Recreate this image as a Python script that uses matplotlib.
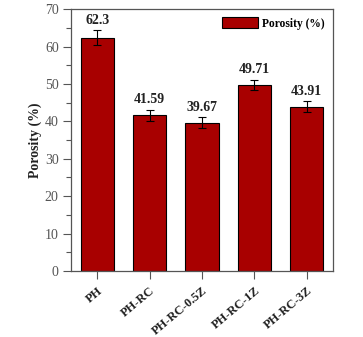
import numpy as np
import matplotlib.pyplot as plt
import matplotlib.transforms as mtransforms
from matplotlib.ticker import MultipleLocator

samples = ["PH", "PH-RC", "PH-RC-0.5Z", "PH-RC-1Z", "PH-RC-3Z"]
porosity = [62.3, 41.59, 39.67, 49.71, 43.91]
porosity_err = [2.0, 1.5, 1.4, 1.3, 1.4]

plt.rcParams["font.family"] = "Liberation Serif"

fig = plt.figure(figsize=(3.63, 3.37), dpi=100)
ax = fig.add_axes([0.196, 0.196, 0.721, 0.777])

x = np.arange(len(samples))
ax.bar(x, porosity, width=0.64, color="#a80000", edgecolor="black", linewidth=0.8,
       yerr=porosity_err, capsize=3, error_kw=dict(elinewidth=0.8, capthick=0.8),
       label="Porosity (%)")

for xi, v, e in zip(x, porosity, porosity_err):
    ax.text(xi, v + e + 1.0, f"{v:g}", ha="center", va="bottom",
            fontsize=10, fontweight="bold", color="#222222")

ax.set_xlim(-0.5, 4.5)
ax.set_ylim(0, 70)
ax.yaxis.set_major_locator(MultipleLocator(10))
ax.yaxis.set_minor_locator(MultipleLocator(5))
ax.set_xticks(x)
ax.set_xticklabels(samples, rotation=40, ha="right", va="top", rotation_mode="anchor",
                   fontsize=9, fontweight="bold", color="#222222")
# nudge rotated labels a little left so they end under the tick
shift = mtransforms.ScaledTranslation(-4 / 72, 0, fig.dpi_scale_trans)
for lbl in ax.get_xticklabels():
    lbl.set_transform(lbl.get_transform() + shift)

ax.tick_params(axis="y", labelsize=10, length=6, width=0.8, color="#555555",
               labelcolor="#555555", pad=3)
ax.tick_params(axis="y", which="minor", length=3.5, width=0.8, color="#555555")
ax.tick_params(axis="x", length=6, width=0.8, color="#555555", pad=4)
ax.set_ylabel("Porosity (%)", fontsize=10, fontweight="bold", color="#222222",
              labelpad=2)

for s in ax.spines.values():
    s.set_linewidth(0.9)
    s.set_color("#555555")

leg = ax.legend(loc="upper right", prop=dict(size=8.3, weight="bold"),
                frameon=False, handlelength=3.1, handleheight=1.1,
                handletextpad=0.35, borderaxespad=0.3)

fig.savefig("out.png", dpi=100)
